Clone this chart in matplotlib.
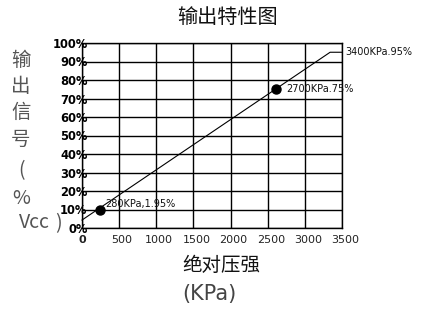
import matplotlib
matplotlib.use("Agg")
import matplotlib.pyplot as plt
from matplotlib.transforms import ScaledTranslation

plt.rcParams['font.family'] = ['Noto Sans CJK SC', 'DejaVu Sans']

# data
line_x = [0, 3340, 3500]
line_y = [4.3, 95, 95]
point_x = [240, 2610]
point_y = [10, 75]
ann_labels = ["280KPa,1.95%", "2700KPa.75%", "3400KPa.95%"]
ann_x = [310, 2756, 3540]
ann_y = [13.2, 75.1, 95.1]
xticks = [0, 500, 1000, 1500, 2000, 2500, 3000, 3500]
yticks = [0, 10, 20, 30, 40, 50, 60, 70, 80, 90, 100]
ylabel_chars = ["输", "出", "信", "号", "(", "%", "Vcc"]

W, H = 433, 312
fig = plt.figure(figsize=(W / 100, H / 100), dpi=100)
ax = fig.add_axes([82 / W, 1 - 228 / H, 260 / W, 185 / H])
ax.set_xlim(0, 3500)
ax.set_ylim(0, 100)
ax.set_xticks(xticks)
ax.set_yticks(yticks)
ax.grid(True, color='black', linewidth=1.0)
for s in ax.spines.values():
    s.set_linewidth(1.0)
ax.tick_params(length=0)
ax.set_yticklabels([f"{v}%" for v in yticks], fontfamily='DejaVu Sans',
                   fontweight='bold', fontsize=8.3)
ax.tick_params(axis='y', pad=-4)
ax.set_xticklabels([str(v) for v in xticks], fontfamily='DejaVu Sans',
                   fontsize=8, color='#222222')
ax.get_xticklabels()[0].set_fontweight('bold')
ax.tick_params(axis='x', pad=5)
for lab in ax.get_xticklabels()[1:]:
    lab.set_transform(lab.get_transform() + ScaledTranslation(3 / 100, 0, fig.dpi_scale_trans))

ax.plot(line_x, line_y, color='black', linewidth=0.8, clip_on=False)
ax.plot(point_x, point_y, 'o', color='black', markersize=6.5)
for t, x, y in zip(ann_labels, ann_x, ann_y):
    ax.text(x, y, t, fontfamily='DejaVu Sans', fontsize=7, ha='left',
            va='center', color='#111111', clip_on=False)

fig.text(227 / W, 1 - 17 / H, "输出特性图", ha='center', va='center',
         fontsize=14.5, color='#111111')
fig.text(221 / W, 1 - 265 / H, "绝对压强", ha='center', va='center',
         fontsize=14, color='#111111')
fig.text(209 / W, 1 - 294 / H, "(KPa)", ha='center', va='center',
         fontsize=15, color='#444444', fontfamily='DejaVu Sans')

ys = [61, 87, 112, 139, 171, 198, 223]
xs = [21, 21, 21, 21, 21, 21, 34]
for c, x, y in zip(ylabel_chars, xs, ys):
    fig.text(x / W, 1 - y / H, c, ha='center', va='center', fontsize=14,
             color='#555555', fontweight='light')
fig.text(58 / W, 1 - 224 / H, ")", ha='center', va='center', fontsize=14,
         color='#555555', fontweight='light')

fig.savefig("out.png", dpi=100)
